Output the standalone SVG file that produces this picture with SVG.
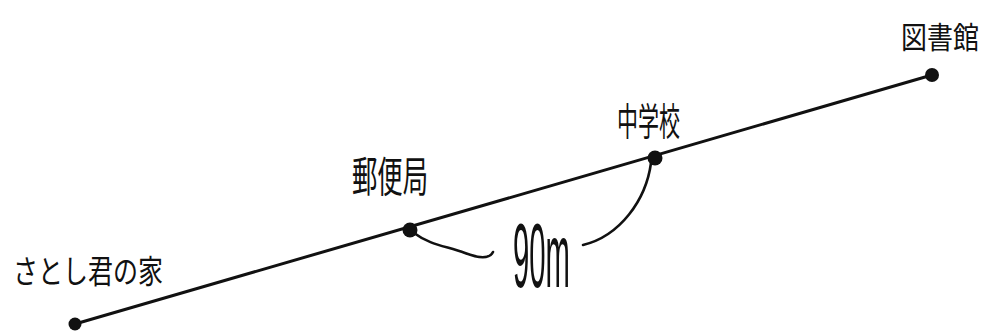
<svg xmlns="http://www.w3.org/2000/svg" width="990" height="333" viewBox="0 0 990 333">
<style>
.line{stroke:#111;stroke-width:3;fill:none;stroke-linecap:round}
.curve{stroke:#111;stroke-width:2.6;fill:none;stroke-linecap:round}
.dot{fill:#111}
.lbl{font-family:"Noto Sans CJK JP","Noto Sans CJK SC",sans-serif;fill:#111}
.num{font-family:"Liberation Sans",sans-serif;fill:#111}
</style>
<rect width="990" height="333" fill="#fff"/>
<g id="connectors">
<path class="line" d="M75,324 L932,75"/>
<path class="curve" d="M414,233 C430,245 446,246 465,253 C478,258 489,260 493,252"/>
<path class="curve" d="M651,163 C646,200 620,236 583,245"/>
</g>
<g id="satoshi-house">
<circle class="dot" cx="75" cy="324" r="6.5"/>
<text class="lbl" x="13" y="283" font-size="32" textLength="150" lengthAdjust="spacingAndGlyphs">さとし君の家</text>
</g>
<g id="post-office">
<circle class="dot" cx="410" cy="230" r="7.5"/>
<text class="lbl" x="352" y="192" font-size="42" textLength="76" lengthAdjust="spacingAndGlyphs">郵便局</text>
</g>
<g id="junior-high">
<circle class="dot" cx="655" cy="158" r="7.5"/>
<text class="lbl" x="617" y="135" font-size="38" textLength="63" lengthAdjust="spacingAndGlyphs">中学校</text>
</g>
<g id="library">
<circle class="dot" cx="932" cy="75" r="7"/>
<text class="lbl" x="901" y="48" font-size="30" textLength="78" lengthAdjust="spacingAndGlyphs">図書館</text>
</g>
<g id="distance">
<text class="num" x="513" y="287" font-size="90" textLength="57" lengthAdjust="spacingAndGlyphs">90m</text>
</g>
</svg>
